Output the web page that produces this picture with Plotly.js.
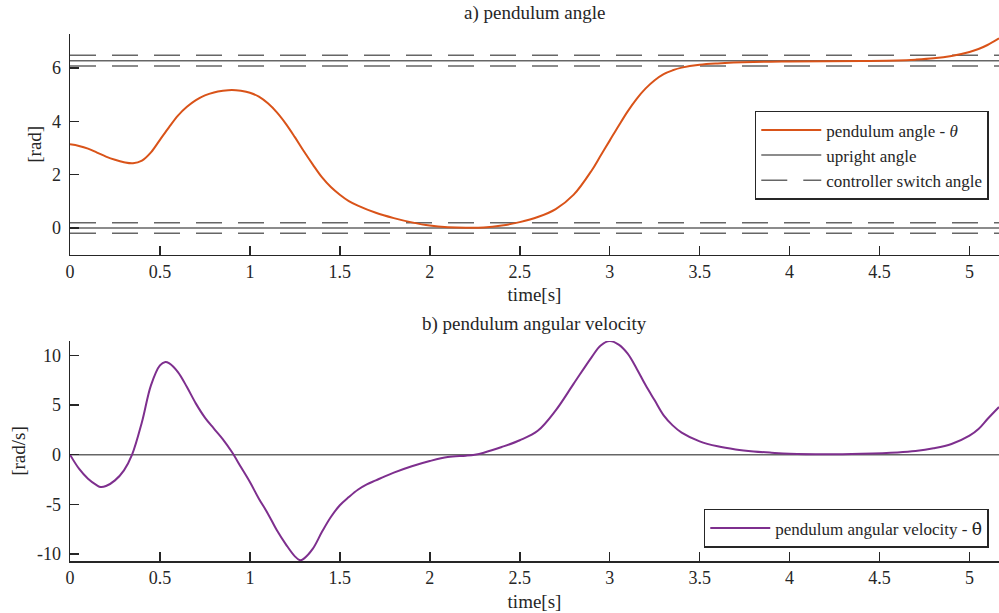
<!DOCTYPE html>
<html>
<head>
<meta charset="utf-8">
<script src="https://cdn.plot.ly/plotly-3.0.1.min.js"></script>
<style>html,body{margin:0;padding:0;background:#fff;}#chart{width:999px;height:613px;}</style>
</head>
<body>
<div id="chart"></div>
<script>
// ---- data ----
const tTheta = [0,0.05,0.1,0.15,0.2,0.25,0.3,0.35,0.4,0.45,0.5,0.55,0.6,0.65,0.7,0.75,0.8,0.85,0.9,0.95,1.0,1.05,1.1,1.15,1.2,1.25,1.3,1.35,1.4,1.45,1.5,1.55,1.6,1.7,1.8,1.9,2.0,2.1,2.2,2.3,2.4,2.5,2.6,2.7,2.8,2.9,2.95,3.0,3.05,3.1,3.15,3.2,3.25,3.3,3.35,3.4,3.5,3.6,3.8,4.0,4.4,4.6,4.7,4.8,4.9,5.0,5.05,5.1,5.164];
const theta  = [3.14,3.08,2.98,2.83,2.68,2.56,2.47,2.43,2.53,2.84,3.31,3.78,4.22,4.55,4.80,4.98,5.09,5.15,5.18,5.15,5.08,4.93,4.68,4.34,3.91,3.41,2.88,2.38,1.91,1.54,1.25,1.01,0.84,0.57,0.37,0.21,0.09,0.03,0.01,0.02,0.09,0.22,0.41,0.71,1.25,2.16,2.72,3.28,3.84,4.38,4.85,5.24,5.55,5.78,5.92,6.02,6.13,6.18,6.23,6.25,6.27,6.29,6.32,6.37,6.46,6.61,6.72,6.87,7.12];

const tVel = [0,0.05,0.1,0.15,0.17,0.2,0.25,0.3,0.345,0.4,0.45,0.5,0.53,0.55,0.6,0.65,0.7,0.75,0.8,0.85,0.9,0.95,1.0,1.05,1.1,1.15,1.2,1.25,1.28,1.3,1.35,1.4,1.45,1.5,1.55,1.6,1.65,1.7,1.75,1.8,1.9,2.0,2.1,2.2,2.25,2.3,2.4,2.5,2.6,2.7,2.8,2.9,2.95,3.0,3.05,3.1,3.15,3.2,3.25,3.3,3.35,3.4,3.5,3.6,3.7,3.8,3.9,4.0,4.2,4.4,4.6,4.7,4.8,4.9,5.0,5.05,5.1,5.164];
const vel  = [0,-1.41,-2.42,-3.09,-3.26,-3.16,-2.59,-1.58,0,3.29,6.98,8.99,9.33,9.22,8.32,6.81,5.14,3.73,2.62,1.54,0.26,-1.25,-2.76,-4.43,-5.94,-7.62,-9.03,-10.24,-10.64,-10.47,-9.47,-7.8,-6.28,-5.1,-4.27,-3.53,-2.99,-2.59,-2.18,-1.81,-1.17,-0.64,-0.23,-0.1,0,0.2,0.77,1.45,2.4,4.46,7.15,9.83,11.0,11.44,11.08,10.17,8.66,6.98,5.47,3.96,2.95,2.22,1.34,0.84,0.53,0.33,0.2,0.1,0.05,0.1,0.23,0.37,0.64,1.07,1.91,2.58,3.59,4.8];

const uprightAngles = [0, 2*Math.PI];
const switchAngles = [-0.2, 0.2, 2*Math.PI-0.2, 2*Math.PI+0.2];
const xTicks = [0,0.5,1,1.5,2,2.5,3,3.5,4,4.5,5];
const xTickText = ['0','0.5','1','1.5','2','2.5','3','3.5','4','4.5','5'];
const yTicksTop = [0,2,4,6];
const yTickTextTop = ['0','2','4','6'];
const yTicksBot = [-10,-5,0,5,10];
const yTickTextBot = ['-10','-5','0','5','10'];

// ---- build ----
const tEnd = tTheta[tTheta.length-1];
function hlines(vals){
  const x=[],y=[];
  vals.forEach((v,i)=>{ if(i){x.push(null);y.push(null);} x.push(0,tEnd); y.push(v,v); });
  return {x,y};
}
const font = "'Liberation Serif', 'DejaVu Serif', serif";
const ink = '#262626';
const gray = '#666666';

const up = hlines(uprightAngles);
const sw = hlines(switchAngles);
const z = hlines([0]);

const traces = [
  {x: sw.x, y: sw.y, type:'scatter', mode:'lines', name:'controller switch angle',
   line:{color:gray, width:1.5, dash:'26px,16px'}, xaxis:'x', yaxis:'y', legend:'legend', legendrank:3},
  {x: up.x, y: up.y, type:'scatter', mode:'lines', name:'upright angle',
   line:{color:gray, width:1.5}, xaxis:'x', yaxis:'y', legend:'legend', legendrank:2},
  {x: tTheta, y: theta, type:'scatter', mode:'lines', name:'pendulum angle - <i>θ</i>',
   line:{color:'#D95319', width:2, shape:'spline', smoothing:1}, xaxis:'x', yaxis:'y', legend:'legend', legendrank:1},
  {x: z.x, y: z.y, type:'scatter', mode:'lines', showlegend:false,
   line:{color:gray, width:1.5}, xaxis:'x2', yaxis:'y2'},
  {x: tVel, y: vel, type:'scatter', mode:'lines',
   name:'pendulum angular velocity - <span style="font-family:\'DejaVu Serif\'">θ̇</span>',
   line:{color:'#7E2F8E', width:2, shape:'spline', smoothing:1}, xaxis:'x2', yaxis:'y2', legend:'legend2'}
];

const xaxisBase = {
  range:[0,tEnd], tickvals:xTicks, ticktext:xTickText, ticks:'inside', ticklen:9, tickwidth:1.5,
  tickcolor:ink, showline:true, linecolor:ink, linewidth:1.5, showgrid:false, zeroline:false,
  tickfont:{family:font, size:18, color:ink}, fixedrange:true
};
const yaxisBase = {
  ticks:'inside', ticklen:9, tickwidth:1.5, tickcolor:ink, showline:true, linecolor:ink, linewidth:1.5,
  showgrid:false, zeroline:false, tickfont:{family:font, size:18, color:ink}, ticklabelstandoff:4
};

const legendBase = {
  bgcolor:'#ffffff', bordercolor:ink, borderwidth:1.5, font:{family:font, size:17, color:ink},
  xanchor:'right', itemwidth:60, tracegroupgap:0
};

const layout = {
  width:999, height:613,
  margin:{l:70, r:0, t:34, b:52},
  paper_bgcolor:'#ffffff', plot_bgcolor:'#ffffff',
  font:{family:font, color:ink},
  xaxis: Object.assign({}, xaxisBase, {anchor:'y', domain:[0,1],
    title:{text:'time[s]', font:{family:font, size:19, color:ink}, standoff:7}}),
  yaxis: Object.assign({}, yaxisBase, {anchor:'x', domain:[0.5814,1], range:[-1, 2*Math.PI+1],
    tickvals:yTicksTop, ticktext:yTickTextTop,
    title:{text:'[rad]', font:{family:font, size:19, color:ink}, standoff:5}}),
  xaxis2: Object.assign({}, xaxisBase, {anchor:'y2', domain:[0,1],
    title:{text:'time[s]', font:{family:font, size:19, color:ink}, standoff:7}}),
  yaxis2: Object.assign({}, yaxisBase, {anchor:'x2', domain:[0,0.4175], range:[-10.71, 11.45],
    tickvals:yTicksBot, ticktext:yTickTextBot,
    title:{text:'[rad/s]', font:{family:font, size:19, color:ink}, standoff:6}}),
  legend: Object.assign({}, legendBase, {x:0.989, y:0.854, yanchor:'top', traceorder:'normal'}),
  legend2: Object.assign({}, legendBase, {x:0.989, y:0.0247, yanchor:'bottom'}),
  annotations:[
    {text:'a) pendulum angle', xref:'paper', yref:'paper', x:0.5, y:1, yshift:8, yanchor:'bottom',
     showarrow:false, font:{family:font, size:19, color:ink}},
    {text:'b) pendulum angular velocity', xref:'paper', yref:'paper', x:0.5, y:0.4175, yshift:4, yanchor:'bottom',
     showarrow:false, font:{family:font, size:19, color:ink}}
  ],
  showlegend:true
};

Plotly.newPlot('chart', traces, layout, {displayModeBar:false, staticPlot:true});
</script>
</body>
</html>
